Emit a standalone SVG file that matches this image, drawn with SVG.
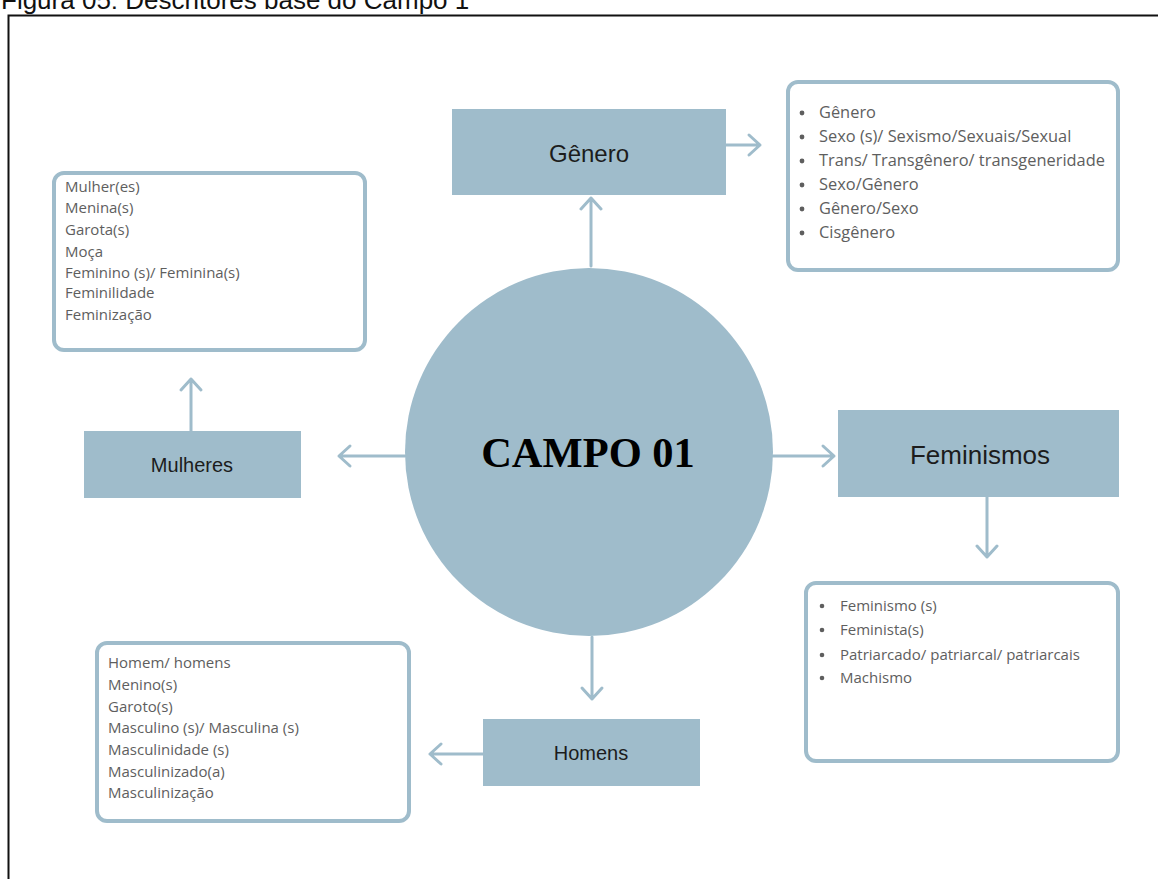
<svg xmlns="http://www.w3.org/2000/svg" width="1158" height="879" viewBox="0 0 1158 879">
<style>
.box{fill:#9fbccb}
.list{fill:#fff;stroke:#9fbccb;stroke-width:4}
.lbl{font-family:"Liberation Sans",Arial,sans-serif;fill:#1c1c1c;text-anchor:middle}
.item{font-family:"Open Sans","Liberation Sans",sans-serif;font-size:15px;fill:#5e5e5e}
.big{font-size:16.4px}
.con{stroke:#9fbccb;stroke-width:3;fill:none;stroke-linecap:round;stroke-linejoin:round}
</style>
<rect width="1158" height="879" fill="#fff"/>
<text x="1" y="9" font-family="Liberation Sans,Arial,sans-serif" font-size="26" fill="#111">Figura 05: Descritores base do Campo 1</text>
<path d="M8.5,879 V15.5 H1158" fill="none" stroke="#111" stroke-width="2"/>

<g id="connectors">
  <path class="con" d="M591,266 V198 M581,209 L591,198 L601,209"/>
  <path class="con" d="M726,145 H760 M749,135 L760,145 L749,155"/>
  <path class="con" d="M773,456 H834 M823,446 L834,456 L823,466"/>
  <path class="con" d="M987,497 V557 M977,546 L987,557 L997,546"/>
  <path class="con" d="M592,637 V699 M582,688 L592,699 L602,688"/>
  <path class="con" d="M483,754 H430 M441,744 L430,754 L441,764"/>
  <path class="con" d="M405,456 H339 M350,446 L339,456 L350,466"/>
  <path class="con" d="M191,431 V379 M181,390 L191,379 L201,390"/>
</g>

<g id="campo">
  <circle cx="589" cy="452" r="184" class="box"/>
  <text x="588" y="467" font-family="Liberation Serif,Times New Roman,serif" font-weight="bold" font-size="42.5" text-anchor="middle" fill="#000">CAMPO 01</text>
</g>

<g id="genero">
  <rect x="452" y="109" width="274" height="86" class="box"/>
  <text x="589" y="162" class="lbl" font-size="24">Gênero</text>
</g>

<g id="genero-list">
  <rect x="788" y="82" width="330" height="188" rx="10" class="list"/>
  <g fill="#5e5e5e">
    <circle cx="802" cy="113" r="2.4"/><circle cx="802" cy="137" r="2.4"/><circle cx="802" cy="161" r="2.4"/>
    <circle cx="802" cy="185" r="2.4"/><circle cx="802" cy="209" r="2.4"/><circle cx="802" cy="233" r="2.4"/>
  </g>
  <text class="item big" x="819" y="118">Gênero</text>
  <text class="item big" x="819" y="142">Sexo (s)/ Sexismo/Sexuais/Sexual</text>
  <text class="item big" x="819" y="166">Trans/ Transgênero/ transgeneridade</text>
  <text class="item big" x="819" y="190">Sexo/Gênero</text>
  <text class="item big" x="819" y="214">Gênero/Sexo</text>
  <text class="item big" x="819" y="238">Cisgênero</text>
</g>

<g id="feminismos">
  <rect x="838" y="410" width="281" height="87" class="box"/>
  <text x="980" y="464" class="lbl" font-size="26">Feminismos</text>
</g>

<g id="feminismos-list">
  <rect x="806" y="583" width="312" height="178" rx="10" class="list"/>
  <g fill="#5e5e5e">
    <circle cx="822" cy="606" r="2.3"/><circle cx="822" cy="630" r="2.3"/><circle cx="822" cy="655" r="2.3"/><circle cx="822" cy="678" r="2.3"/>
  </g>
  <text class="item" x="840" y="611">Feminismo (s)</text>
  <text class="item" x="840" y="635">Feminista(s)</text>
  <text class="item" x="840" y="660">Patriarcado/ patriarcal/ patriarcais</text>
  <text class="item" x="840" y="683">Machismo</text>
</g>

<g id="homens">
  <rect x="483" y="719" width="217" height="67" class="box"/>
  <text x="591" y="760" class="lbl" font-size="20">Homens</text>
</g>

<g id="homens-list">
  <rect x="97" y="643" width="312" height="178" rx="10" class="list"/>
  <text class="item" x="108" y="668">Homem/ homens</text>
  <text class="item" x="108" y="690">Menino(s)</text>
  <text class="item" x="108" y="712">Garoto(s)</text>
  <text class="item" x="108" y="733">Masculino (s)/ Masculina (s)</text>
  <text class="item" x="108" y="755">Masculinidade (s)</text>
  <text class="item" x="108" y="777">Masculinizado(a)</text>
  <text class="item" x="108" y="798">Masculinização</text>
</g>

<g id="mulheres">
  <rect x="84" y="431" width="217" height="67" class="box"/>
  <text x="192" y="472" class="lbl" font-size="20">Mulheres</text>
</g>

<g id="mulheres-list">
  <rect x="54" y="173" width="311" height="177" rx="10" class="list"/>
  <text class="item" x="65" y="192">Mulher(es)</text>
  <text class="item" x="65" y="213">Menina(s)</text>
  <text class="item" x="65" y="235">Garota(s)</text>
  <text class="item" x="65" y="257">Moça</text>
  <text class="item" x="65" y="278">Feminino (s)/ Feminina(s)</text>
  <text class="item" x="65" y="298">Feminilidade</text>
  <text class="item" x="65" y="320">Feminização</text>
</g>
</svg>
